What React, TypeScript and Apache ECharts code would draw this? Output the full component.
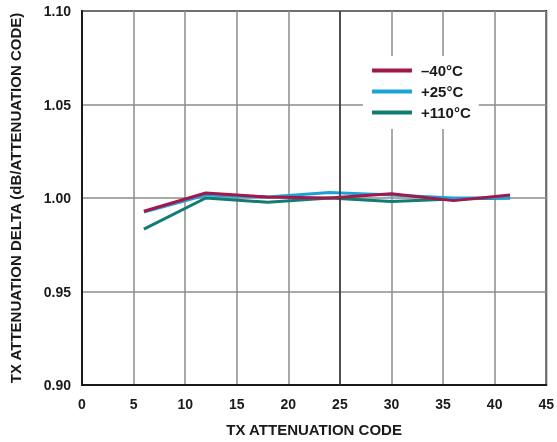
import React, { useEffect, useRef } from "react";
import * as echarts from "echarts";

const codes = [6, 12, 18, 24, 30, 36, 41.5];
const minus40 = [0.9929, 1.0027, 1.0005, 1.0, 1.0023, 0.9986, 1.0016];
const plus25 = [0.9925, 1.0016, 1.0005, 1.003, 1.0016, 1.0, 1.0];
const plus110 = [0.9834, 1.0, 0.9977, 1.0, 0.9981, 0.9995, 1.0];
const seriesNames = ["\u201340\u00b0C", "+25\u00b0C", "+110\u00b0C"];
const colors = ["#a3174a", "#1ba3d8", "#137c72"];

const FONT = "Liberation Sans, Arial, sans-serif";

export default function App() {
  const ref = useRef<HTMLDivElement>(null);
  useEffect(() => {
    if (!ref.current) return;
    const chart = echarts.init(ref.current, undefined, { renderer: "svg" });
    const mk = (vals: number[]) => codes.map((c, i) => [c, vals[i]]);
    const all = [minus40, plus25, plus110];
    chart.setOption({
      animation: false,
      textStyle: { fontFamily: FONT },
      grid: {
        left: 79,
        right: 9,
        top: 11,
        bottom: 56,
        show: true,
        borderColor: "#1a1a1a",
        borderWidth: 2,
        backgroundColor: "transparent",
      },
      legend: {
        orient: "vertical",
        left: 363,
        top: 56,
        width: 123,
        padding: [6, 8, 8, 9],
        backgroundColor: "#ffffff",
        itemWidth: 40,
        itemHeight: 4,
        itemGap: 4,
        icon: "rect",
        data: seriesNames,
        textStyle: {
          fontSize: 15,
          fontWeight: "bold",
          color: "#1a1a1a",
          lineHeight: 17,
          padding: [0, 0, 0, 4],
        },
      },
      xAxis: {
        type: "value",
        min: 0,
        max: 45,
        interval: 5,
        name: "TX ATTENUATION CODE",
        nameLocation: "middle",
        nameGap: 37,
        nameTextStyle: { fontSize: 15, fontWeight: "bold", color: "#1a1a1a" },
        axisLine: { lineStyle: { color: "#1a1a1a", width: 2 } },
        axisTick: { show: false },
        axisLabel: { fontSize: 14, fontWeight: "bold", color: "#1a1a1a", margin: 12 },
        splitLine: { show: true, lineStyle: { color: "#8c8c8c", width: 1.5 } },
      },
      yAxis: {
        type: "value",
        min: 0.9,
        max: 1.1,
        interval: 0.05,
        name: "TX ATTENUATION DELTA (dB/ATTENUATION CODE)",
        nameLocation: "middle",
        nameGap: 59,
        nameTextStyle: { fontSize: 15, fontWeight: "bold", color: "#1a1a1a" },
        axisLine: { lineStyle: { color: "#1a1a1a", width: 2 } },
        axisTick: { show: false },
        axisLabel: {
          fontSize: 14,
          fontWeight: "bold",
          color: "#1a1a1a",
          margin: 11,
          formatter: (v: number) => v.toFixed(2),
        },
        splitLine: { show: true, lineStyle: { color: "#8c8c8c", width: 1.5 } },
      },
      series: [
        ...seriesNames.map((n, i) => ({
          name: n,
          type: "line",
          data: mk(all[i]),
          showSymbol: false,
          symbol: "none",
          z: 3 - i + 2,
          lineStyle: { color: colors[i], width: 3 },
          itemStyle: { color: colors[i] },
        })),
        {
          name: "grid25",
          type: "line",
          data: [],
          z: 1,
          markLine: {
            silent: true,
            symbol: "none",
            label: { show: false },
            lineStyle: { color: "#333333", width: 1.5, type: "solid" },
            data: [{ xAxis: 25 }],
          },
        },
      ],
    });
    return () => chart.dispose();
  }, []);
  return (
    <div
      ref={ref}
      style={{ position: "fixed", left: 0, top: 0, width: 557, height: 442 }}
    />
  );
}
